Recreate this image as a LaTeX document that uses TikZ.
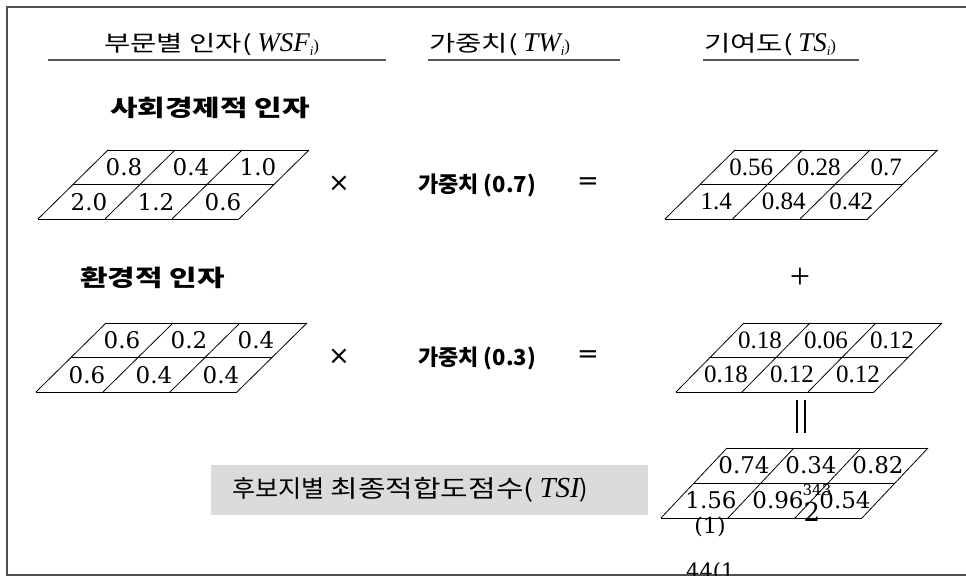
\documentclass[tikz,border=0pt]{standalone}
\usepackage{fontspec}
\setmainfont{Liberation Serif}
\newfontfamily\kr{Noto Sans CJK KR}
\newfontfamily\krw[FakeStretch=1.3]{Noto Sans CJK KR}
\newfontfamily\krb[FakeStretch=1.05]{Noto Sans CJK KR}
\newfontfamily\krc[FakeStretch=1.25]{Noto Sans CJK KR}
\newfontfamily\djs{DejaVu Serif}
\newfontfamily\djsans{DejaVu Sans}
\definecolor{framec}{RGB}{80,80,80}
\definecolor{boxgrey}{RGB}{217,220,217}
\newcommand\pgrid[5]{%
  \foreach \k in {0,1,2} \draw[gridline] ({#1+\k*#5},{#2-\k*#4}) -- ++({3*#3},0);
  \foreach \j in {0,...,3} \draw[gridline] ({#1+\j*#3},#2) -- ++({2*#5},{-2*#4});
}
\newcommand\hsym[1]{{\fontsize{27}{28}\selectfont\itshape #1}\raisebox{-4pt}{\fontsize{13}{13}\selectfont\itshape i}{\fontsize{17}{17}\selectfont)}}
\begin{document}
\begin{tikzpicture}[x=1pt,y=-1pt,
  gridline/.style={line width=0.8pt,black},
  framel/.style={line width=1.4pt,framec},
  uline/.style={line width=1.6pt,black!65},
  hdr/.style={anchor=base west,inner sep=0pt,font=\fontsize{22}{24}\selectfont},
  title/.style={anchor=west,inner sep=0pt,font=\krw\bfseries\fontsize{23}{26}\selectfont},
  lnum/.style={inner sep=0pt,font=\djs\fontsize{23}{25}\selectfont},
  rnum/.style={inner sep=0pt,font=\fontsize{25}{27}\selectfont},
  wt/.style={inner sep=0pt,font=\kr\bfseries\fontsize{22}{24}\selectfont},
  op/.style={inner sep=0pt,font=\djsans\fontsize{26}{28}\selectfont},
]
\useasboundingbox (0,0) rectangle (966,577);
% frame
\draw[framel] (966,7) -- (7,7) -- (7,575) -- (966,575);
% headers
\node[hdr] (h1) at (104,52) {{\krw 부문별 인자(} \hsym{WSF}};
\node[hdr] (h2) at (429,52) {{\krw 가중치(} \hsym{TW}};
\node[hdr] (h3) at (704,52) {{\krw 기여도(} \hsym{TS}};
\draw[uline] (48,60) -- (386,60);
\draw[uline] (428,60) -- (620,60);
\draw[uline] (703,60) -- (859,60);
% section titles
\node[title] (t1) at (110,108) {사회경제적 인자};
\node[title] (t2) at (80,278) {환경적 인자};
% grids
\pgrid{38}{219}{67}{34.5}{35}
\pgrid{36}{392}{67}{34.5}{35}
\pgrid{665}{219}{67.5}{34.5}{35}
\pgrid{676}{392}{66}{34.5}{34}
\pgrid{661}{518}{67}{35}{33}
% grid texts
\foreach \c/\r/\t/\n in {0/1/0.8/a,1/1/0.4/b,2/1/1.0/c,0/0/2.0/d,1/0/1.2/e,2/0/0.6/f}
  \node[lnum] (ga\n) at ({38+\c*67+33.5+(\r+0.5)*35},{219-(\r+0.5)*34.5}) {\t};
\foreach \c/\r/\t/\n in {0/1/0.6/a,1/1/0.2/b,2/1/0.4/c,0/0/0.6/d,1/0/0.4/e,2/0/0.4/f}
  \node[lnum] (gb\n) at ({36+\c*67+33.5+(\r+0.5)*35},{392-(\r+0.5)*34.5}) {\t};
\foreach \c/\r/\t/\n in {0/1/0.56/a,1/1/0.28/b,2/1/0.7/c,0/0/1.4/d,1/0/0.84/e,2/0/0.42/f}
  \node[rnum] (gc\n) at ({665+\c*67.5+33.75+(\r+0.5)*35},{219-(\r+0.5)*34.5}) {\t};
\foreach \c/\r/\t/\n in {0/1/0.18/a,1/1/0.06/b,2/1/0.12/c,0/0/0.18/d,1/0/0.12/e,2/0/0.12/f}
  \node[rnum] (gd\n) at ({676+\c*66+33+(\r+0.5)*34},{392-(\r+0.5)*34.5}) {\t};
\foreach \c/\r/\t/\n in {0/1/0.74/a,1/1/0.34/b,2/1/0.82/c,0/0/1.56/d,1/0/0.96/e,2/0/0.54/f}
  \node[lnum] (ge\n) at ({661+\c*67+33.5+(\r+0.5)*33},{518-(\r+0.5)*35}) {\t};
% stray fragments in final grid
\node[lnum,font=\djs\fontsize{22}{24}\selectfont] (s1) at (710,527) {(1)};
\node[lnum,font=\djs\fontsize{15}{16}\selectfont] (s2) at (817,490) {343};
\node[lnum,font=\djs\fontsize{26}{28}\selectfont] (s3) at (812,512) {2};
\begin{scope}
\clip (0,0) rectangle (966,575);
\node[lnum,font=\djs\fontsize{21}{22}\selectfont,anchor=north west] (s4) at (686,562) {44(1};
\end{scope}
% operators
\node[op] (x1) at (339,184) {×};
\node[wt] (w1) at (477,185) {가중치 (0.7)};
\node[op] (e1) at (588,184) {=};
\node[op] (x2) at (339,357) {×};
\node[wt] (w2) at (477,358) {가중치 (0.3)};
\node[op] (e2) at (588,357) {=};
\node[inner sep=0pt,font=\fontsize{36}{38}\selectfont] (pl) at (800,278) {+};
\coordinate (pa) at (797,400);
\coordinate (pb) at (805,400);
\draw[line width=2pt] (pa) -- ++(0,33);
\draw[line width=2pt] (pb) -- ++(0,33);
% TSI box
\node[fill=boxgrey,minimum width=437pt,minimum height=50pt,anchor=north west,inner sep=0pt] (tbox) at (211,465) {};
\node[anchor=west,inner sep=0pt,font=\krb\fontsize{24}{26}\selectfont] (tsi) at (232,490) {후보지별 {\krc 최종적합도점수(} {\rmfamily\fontsize{29}{30}\selectfont\itshape TSI})};
\end{tikzpicture}
\end{document}
